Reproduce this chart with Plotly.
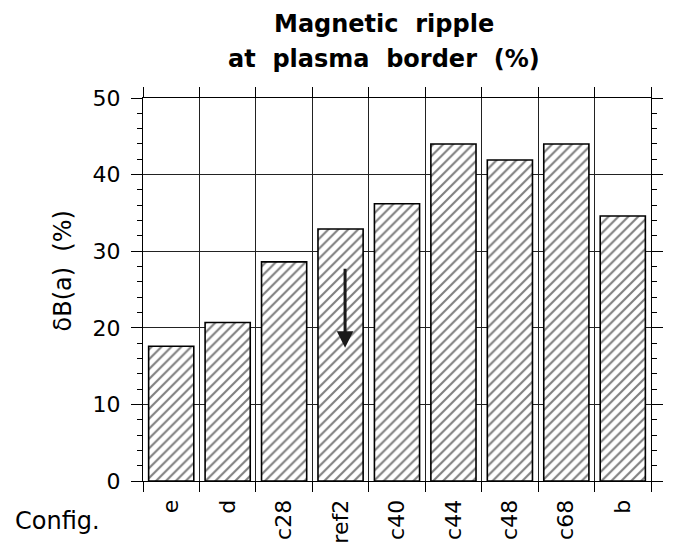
import plotly.graph_objects as go

# Ripple configurations and ripple amplitude at the plasma border (%)
configs = ["e", "d", "c28", "ref2", "c40", "c44", "c48", "c68", "b"]
ripple = [17.6, 20.7, 28.6, 32.9, 36.2, 44.0, 41.9, 44.0, 34.6]
y_ticks = [0, 10, 20, 30, 40, 50]

# Arrow inside the ref2 bar: from 27.9 % down to 17.4 %
arrow_cfg = "ref2"
arrow_from, arrow_to = 27.9, 17.4

W, H = 675, 556
ML, MR, MT, MB = 143, 18, 98, 74
PW, PH = W - ML - MR, H - MT - MB

def px_x(x):
    return (x - ML) / PW

def px_y(y):
    return (H - MB - y) / PH

FONT = "DejaVu Sans"

fig = go.Figure(
    go.Bar(
        x=configs,
        y=ripple,
        marker=dict(
            color="white",
            line=dict(color="black", width=1.6),
            pattern=dict(shape="/", fgcolor="black", bgcolor="white",
                         size=7, solidity=0.3),
        ),
        hoverinfo="x+y",
    )
)

axis_common = dict(
    showline=True, linecolor="black", linewidth=1,
    mirror="ticks", ticks="outside", tickcolor="black",
    showgrid=True, gridcolor="#222", gridwidth=1,
    zeroline=False,
)

fig.update_xaxes(
    **axis_common,
    type="category",
    tickson="boundaries",
    ticklen=10, tickwidth=1,
    tickangle=-90,
    ticklabelstandoff=9,
    tickfont=dict(family=FONT, size=22, color="black"),
    range=[-0.5, len(configs) - 0.5],
)

fig.update_yaxes(
    **axis_common,
    range=[0, 50],
    tickvals=y_ticks,
    ticklen=11, tickwidth=1,
    ticklabelstandoff=6,
    tickfont=dict(family=FONT, size=22, color="black"),
    minor=dict(dtick=2, ticks="outside", ticklen=5, tickcolor="black",
               showgrid=False),
)

ci = configs.index(arrow_cfg) + 0.08
title_font = dict(family=FONT, size=24, color="black", weight="bold")
annotations = [
    dict(x=ci, y=arrow_to, ax=ci, ay=arrow_from, xref="x", yref="y",
         axref="x", ayref="y", showarrow=True, arrowhead=2, arrowsize=1.1,
         arrowwidth=3, arrowcolor="#1a1a1a", text=""),
    dict(text="Magnetic\u00a0\u00a0ripple", x=px_x(387), y=px_y(24),
         xref="paper", yref="paper", xanchor="center", yanchor="middle",
         showarrow=False, font=title_font),
    dict(text="at\u00a0\u00a0plasma\u00a0\u00a0border\u00a0\u00a0(%)",
         x=px_x(387), y=px_y(59),
         xref="paper", yref="paper", xanchor="center", yanchor="middle",
         showarrow=False, font=title_font),
    dict(text="δB(a)\u00a0\u00a0(%)", x=px_x(62), y=px_y(271),
         xref="paper", yref="paper", xanchor="center", yanchor="middle",
         textangle=-90, showarrow=False,
         font=dict(family=FONT, size=24, color="black")),
    dict(text="Config.", x=px_x(11), y=px_y(522),
         xref="paper", yref="paper", xanchor="left", yanchor="middle",
         showarrow=False,
         font=dict(family=FONT, size=24, color="black")),
]

fig.update_layout(
    width=W, height=H,
    margin=dict(l=ML, r=MR, t=MT, b=MB, pad=0),
    paper_bgcolor="white", plot_bgcolor="white",
    bargap=0.2,
    showlegend=False,
    annotations=annotations,
)

fig.write_html("out.html")
